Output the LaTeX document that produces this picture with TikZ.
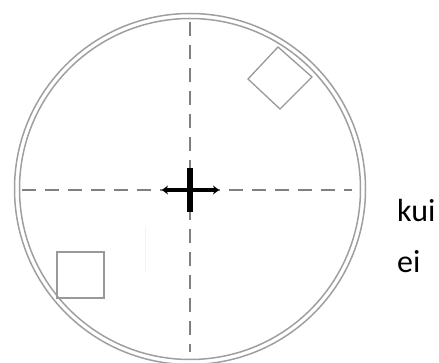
\documentclass[tikz,border=0pt]{standalone}
\usepackage{fontspec}
\setmainfont{Carlito}
\usetikzlibrary{arrows.meta}

\begin{document}
\begin{tikzpicture}[x=1pt, y=-1pt]
				\useasboundingbox (0,0) rectangle (439,363);
				% Define coordinates
				\coordinate (O) at (190,189);
				\coordinate (L) at (22,190);
				\coordinate (R) at (352,190);
				\coordinate (T) at (190,22);
				\coordinate (B) at (190,352);
				
				% Rim
				\draw[gray!75, line width=1.5pt] (O) circle (175.5);
				\draw[gray!75, line width=1.5pt] (O) circle (170.5);
				
				% Dashed axes
				\draw[gray, line width=1.3pt, dash pattern=on 14pt off 9pt] (L) -- (R);
				\draw[gray, line width=1.3pt, dash pattern=on 14pt off 9pt] (T) -- (B);
				\draw[gray!10, line width=1pt] (145,227) -- (145,273);
				
				% Markers
				\coordinate (D1) at (278,47);
				\coordinate (D2) at (312,77);
				\coordinate (D3) at (280,109);
				\coordinate (D4) at (248,79);
				\draw[gray!80, line width=1.3pt] (D1) -- (D2) -- (D3) -- (D4) -- cycle;
				\draw[gray!80, line width=1.3pt] (57,252) rectangle (104,298);
				
				% Centre cross
				\coordinate (CL) at (162,190);
				\coordinate (CR) at (219,190);
				\draw[line width=6pt] (190,168) -- (190,212);
				\draw[{Stealth[length=6pt,width=9pt]}-{Stealth[length=6pt,width=9pt]}, line width=3.5pt] (CL) -- (CR);
				
				% Labels
				\node[anchor=base west, inner sep=0pt, font=\fontsize{32}{38}\selectfont] (kui) at (397,222) {kui};
				\node[anchor=base west, inner sep=0pt, font=\fontsize{32}{38}\selectfont] (ei) at (397,273) {ei};
			\end{tikzpicture}
\end{document}
